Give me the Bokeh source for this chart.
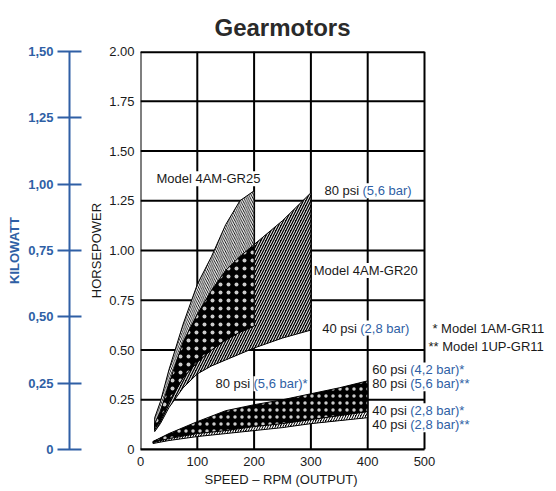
from bokeh.plotting import figure
from bokeh.models import Range1d, LinearAxis, FixedTicker, CustomJSTickFormatter, Label, Title
from bokeh.embed import file_html
from bokeh.resources import INLINE

# ---------------- data ----------------
x_ticks = [0, 100, 200, 300, 400, 500]
hp_ticks = [0, 0.25, 0.5, 0.75, 1.0, 1.25, 1.5, 1.75, 2.0]
kw_ticks = [0, 0.25, 0.5, 0.75, 1.0, 1.25, 1.5]

# Model 4AM-GR25 / 4AM-GR20 (speed rpm, horsepower)
big_rpm = [25, 35, 50, 75, 100, 125, 150, 175, 200, 250, 300]
gr25_80psi = [0.16, 0.24, 0.40, 0.63, 0.83, 0.97, 1.13, 1.25, 1.30]
gr25_40psi = [0.10, 0.15, 0.24, 0.36, 0.44, 0.50, 0.55, 0.59, 0.62]
gr20_80psi = [0.13, 0.19, 0.33, 0.54, 0.68, 0.80, 0.90, 0.97, 1.03, 1.15, 1.29]
gr20_40psi = [0.09, 0.13, 0.21, 0.31, 0.38, 0.42, 0.45, 0.48, 0.51, 0.56, 0.60]

# Model 1AM-GR11 (*) / 1UP-GR11 (**)
small_rpm = [22, 50, 100, 150, 200, 250, 300, 350, 400]
am11_60psi = [0.040, 0.080, 0.140, 0.195, 0.225, 0.250, 0.280, 0.310, 0.345]
am11_40psi = [0.035, 0.055, 0.080, 0.095, 0.115, 0.130, 0.150, 0.170, 0.190]
up11_80psi = [0.040, 0.075, 0.125, 0.170, 0.205, 0.230, 0.260, 0.285, 0.310]
up11_40psi = [0.030, 0.045, 0.065, 0.080, 0.095, 0.110, 0.130, 0.145, 0.160]

title_text = "Gearmotors"
x_label = "SPEED \u2013 RPM (OUTPUT)"
hp_label = "HORSEPOWER"
kw_label = "KILOWATT"

# annotation texts: (black part, blue part)
ann_texts = [
    ("Model 4AM-GR25", ""),
    ("80 psi", "(5,6 bar)"),
    ("Model 4AM-GR20", ""),
    ("40 psi", "(2,8 bar)"),
    ("* Model 1AM-GR11", ""),
    ("** Model 1UP-GR11", ""),
    ("80 psi", "(5,6 bar)*"),
    ("60 psi", "(4,2 bar)*"),
    ("80 psi", "(5,6 bar)**"),
    ("40 psi", "(2,8 bar)*"),
    ("40 psi", "(2,8 bar)**"),
]

# ---------------- styling ----------------
BLUE = "#2f5fa5"
DARK = "#1a1a1a"
FONT = "Liberation Sans"
FS = "13px"

X_MAX = 500
X_VIEW = 500 * 407 / 284   # frame extends to the right for the side notes

p = figure(frame_width=407, frame_height=398,
           x_range=Range1d(0, X_VIEW), y_range=Range1d(0, 2.0),
           output_backend="svg", toolbar_location=None,
           min_border_left=0, min_border_right=0,
           min_border_top=0, min_border_bottom=0)
p.extra_y_ranges = {"kw": Range1d(0, 1.5)}
p.background_fill_color = "white"
p.border_fill_color = "white"
p.outline_line_color = None
p.grid.visible = False

t = Title(text=title_text, align="left", offset=74, standoff=22,
          text_font=FONT, text_font_size="24px", text_font_style="bold",
          text_color="#2a2a2a")
p.add_layout(t, "above")

# x axis
xa = p.xaxis[0]
xa.ticker = FixedTicker(ticks=x_ticks)
xa.bounds = (0, X_MAX)
xa.axis_line_color = "black"
xa.axis_line_width = 2
xa.major_tick_line_color = None
xa.minor_tick_line_color = None
xa.major_tick_out = 0
xa.major_tick_in = 0
xa.major_label_standoff = 7
xa.major_label_text_font = FONT
xa.major_label_text_font_size = FS
xa.major_label_text_color = DARK

xt = Title(text=x_label, align="left", offset=64, standoff=3,
           text_font=FONT, text_font_size=FS, text_font_style="normal",
           text_color=DARK)
p.add_layout(xt, "below")

# horsepower axis
ya = p.yaxis[0]
ya.ticker = FixedTicker(ticks=hp_ticks)
ya.formatter = CustomJSTickFormatter(code="return tick == 0 ? '0' : tick.toFixed(2);")
ya.axis_label = hp_label
ya.axis_line_color = None
ya.major_tick_line_color = None
ya.minor_tick_line_color = None
ya.major_tick_out = 0
ya.major_tick_in = 0
ya.major_label_standoff = 6
ya.axis_label_standoff = 2
ya.major_label_text_font = FONT
ya.major_label_text_font_size = FS
ya.major_label_text_color = DARK
ya.axis_label_text_font = FONT
ya.axis_label_text_font_size = FS
ya.axis_label_text_font_style = "normal"
ya.axis_label_text_color = DARK


def spacer_axis(width):
    # empty axis used only to leave a gap of the given width
    return LinearAxis(ticker=FixedTicker(ticks=[1.0]), axis_line_color=None,
                      major_tick_out=width, major_tick_in=0,
                      major_tick_line_alpha=0, minor_tick_line_color=None,
                      major_label_text_font_size="0px", major_label_standoff=0,
                      major_label_text_alpha=0)


p.add_layout(spacer_axis(17), "left")

# kilowatt axis
ka = LinearAxis(y_range_name="kw", ticker=FixedTicker(ticks=kw_ticks),
                formatter=CustomJSTickFormatter(code="return tick == 0 ? '0' : tick.toFixed(2).replace('.', ',');"),
                axis_label=kw_label)
ka.axis_line_color = BLUE
ka.axis_line_width = 2
ka.major_tick_line_color = BLUE
ka.major_tick_line_width = 2
ka.major_tick_out = 12
ka.major_tick_in = 12
ka.minor_tick_line_color = None
ka.major_label_standoff = 4
ka.axis_label_standoff = 3
ka.major_label_text_font = FONT
ka.major_label_text_font_size = FS
ka.major_label_text_font_style = "bold"
ka.major_label_text_color = BLUE
ka.axis_label_text_font = FONT
ka.axis_label_text_font_size = FS
ka.axis_label_text_font_style = "bold"
ka.axis_label_text_color = BLUE
p.add_layout(ka, "left")

p.add_layout(spacer_axis(4), "left")

# ---------------- grid (bounded to 0..500 rpm) ----------------
p.segment(x0=x_ticks, y0=[hp_ticks[0]] * len(x_ticks), x1=x_ticks,
          y1=[hp_ticks[-1]] * len(x_ticks), line_color="black", line_width=2)
p.segment(x0=[x_ticks[0]] * len(hp_ticks), y0=hp_ticks, x1=[x_ticks[-1]] * len(hp_ticks),
          y1=hp_ticks, line_color="black", line_width=2)
p.segment(x0=[x_ticks[0]], y0=[hp_ticks[-1]], x1=[x_ticks[-1]], y1=[hp_ticks[-1]],
          line_color="black", line_width=3.5)

# ---------------- shapes ----------------
def band(xs, upper, lower):
    return list(xs) + list(xs[::-1]), list(upper) + list(lower[::-1])

n25 = len(gr25_80psi)
r25 = big_rpm[:n25]

# GR20 (diagonal "/" hatch)
bx, by = band(big_rpm, gr20_80psi, gr20_40psi)
p.patch(bx, by, fill_color="black", line_color="black", line_width=1,
        hatch_pattern="right_diagonal_line", hatch_color="white",
        hatch_scale=5, hatch_weight=1)
# GR25 ("\" hatch)
bx, by = band(r25, gr25_80psi, gr25_40psi)
p.patch(bx, by, fill_color="black", line_color="black", line_width=1,
        hatch_pattern="left_diagonal_line", hatch_color="white",
        hatch_scale=4.5, hatch_weight=1.2)
# overlap of both (dotted)
ov_up = [min(a, b) for a, b in zip(gr25_80psi, gr20_80psi[:n25])]
ov_lo = [max(a, b) for a, b in zip(gr25_40psi, gr20_40psi[:n25])]
bx, by = band(r25, ov_up, ov_lo)
p.patch(bx, by, fill_color="black", line_color="black", line_width=1,
        hatch_pattern="dot", hatch_color="white", hatch_alpha=0.8,
        hatch_scale=8, hatch_weight=0.5)

# 1UP-GR11 (diagonal hatch)
bx, by = band(small_rpm, up11_80psi, up11_40psi)
p.patch(bx, by, fill_color="black", line_color="black", line_width=1,
        hatch_pattern="right_diagonal_line", hatch_color="white",
        hatch_scale=5, hatch_weight=1.3)
# 1AM-GR11 (dotted)
bx, by = band(small_rpm, am11_60psi, am11_40psi)
p.patch(bx, by, fill_color="black", line_color="black", line_width=1,
        hatch_pattern="dot", hatch_color="white", hatch_alpha=0.8,
        hatch_scale=7, hatch_weight=0.5)

# ---------------- annotations ----------------
ann_pos = [(28, 1.36), (324, 1.30), (305, 0.90), (320, 0.61), (514, 0.61), (507, 0.52),
           (132, 0.33), (408, 0.40), (408, 0.33), (408, 0.195), (408, 0.125)]
blue_off = 38

for (black, blue), (ax, ay) in zip(ann_texts, ann_pos):
    p.add_layout(Label(x=ax, y=ay, text=black, text_font=FONT, text_font_size=FS,
                       text_color=DARK, text_baseline="middle", text_align="left",
                       background_fill_color="white", background_fill_alpha=1.0))
    if blue:
        p.add_layout(Label(x=ax, y=ay, x_offset=blue_off, text=blue, text_font=FONT,
                           text_font_size=FS, text_color=BLUE, text_baseline="middle",
                           text_align="left", background_fill_color="white",
                           background_fill_alpha=1.0))

open("out.html", "w").write(file_html(p, INLINE))
